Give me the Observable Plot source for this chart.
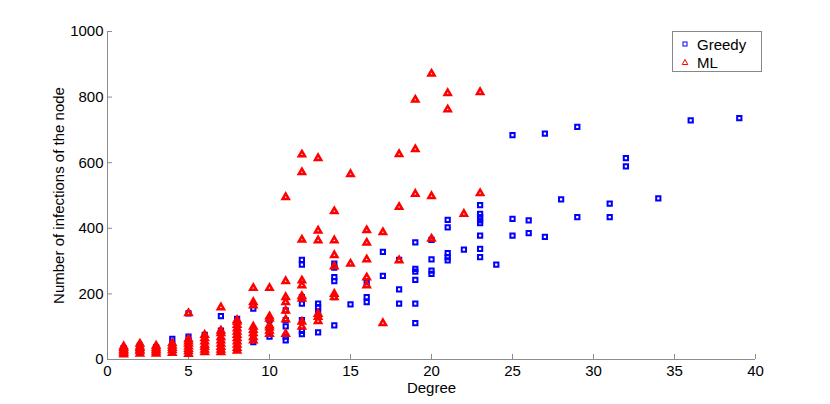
<!DOCTYPE html>
<html>
<head>
<meta charset="utf-8">
<script src="https://cdn.jsdelivr.net/npm/d3@7"></script>
<script src="https://cdn.jsdelivr.net/npm/@observablehq/plot@0.6"></script>
<style>
  body { margin: 0; background: white; }
  #wrap { position: relative; width: 830px; height: 404px; font-family: "Liberation Sans", Arial, Helvetica, sans-serif; }
  #legend { position: absolute; left: 672px; top: 31px; width: 90px; height: 41px; border: 1px solid #888; background: white; box-sizing: border-box; font-size: 15px; }
  #legend .row { position: absolute; left: 0; height: 18px; display: flex; align-items: center; }
  #legend svg { margin-left: 8px; margin-right: 8px; }
</style>
</head>
<body>
<div id="wrap">
  <div id="chart"></div>
  <div id="legend">
    <div class="row" style="top:3px"><svg width="8" height="8"><rect x="2" y="2" width="4" height="4" fill="none" stroke="#0000ff" stroke-width="1"/></svg><span>Greedy</span></div>
    <div class="row" style="top:21px"><svg width="8" height="8"><path d="M4,1.5L6.8,6.5H1.2Z" fill="none" stroke="#ff0000" stroke-width="1"/></svg><span>ML</span></div>
  </div>
</div>
<script>
const xTicks = [0, 5, 10, 15, 20, 25, 30, 35, 40];
const yTicks = [0, 200, 400, 600, 800, 1000];

// Greedy series: degree and number of infections
const greedyDeg = [
  1,1,1,1,
  2,2,2,2,
  3,3,3,3,
  4,4,4,4,
  5,5,5,5,5,5,
  6,6,6,6,6,
  7,7,7,7,7,
  8,8,8,8,8,
  9,9,9,9,
  10,10,10,10,
  11,11,11,11,11,
  12,12,12,12,12,12,12,
  13,13,13,13,13,
  14,14,14,14,14,14,
  15,
  16,16,16,
  17,17,
  18,18,18,
  19,19,19,19,19,19,
  20,20,20,20,
  21,21,21,21,21,
  22,
  23,23,23,23,23,23,23,23,
  24,
  25,25,25,
  26,26,
  27,27,
  28,
  29,29,
  31,31,
  32,32,
  34,
  36,
  39
];
const greedyInf = [
  20,25,30,35,
  22,28,35,42,
  20,26,32,38,
  25,35,45,63,
  20,30,45,55,70,141,
  25,35,45,60,75,
  25,40,60,88,132,
  30,45,65,90,124,
  53,70,90,155,
  70,85,94,120,
  58,70,101,120,150,
  77,87,120,170,190,289,304,
  83,130,145,160,170,
  104,190,239,251,280,292,
  168,
  175,190,236,
  255,328,
  170,214,304,
  111,170,243,268,276,357,
  261,271,305,365,
  302,312,324,403,426,
  335,
  312,337,378,416,424,434,444,471,
  289,
  378,429,684,
  385,424,
  374,689,
  488,
  434,709,
  434,475,
  589,614,
  491,
  729,
  736
];

// ML series: degree and number of infections
const mlDeg = [
  1,1,1,1,1,1,
  2,2,2,2,2,2,
  3,3,3,3,3,
  4,4,4,4,4,
  5,5,5,5,5,5,5,5,
  6,6,6,6,6,6,6,
  7,7,7,7,7,7,7,7,7,
  8,8,8,8,8,8,8,8,8,8,8,
  9,9,9,9,9,9,9,9,
  10,10,10,10,10,10,10,
  11,11,11,11,11,11,11,
  12,12,12,12,12,12,12,12,12,
  13,13,13,13,13,13,
  14,14,14,14,14,14,
  15,15,
  16,16,16,16,16,
  17,17,
  18,18,18,
  19,19,19,
  20,20,20,
  21,21,
  22,
  23,23
];
const mlInf = [
  15,20,25,30,35,40,
  18,25,30,35,40,48,
  18,24,30,36,42,
  20,28,35,42,50,
  17,25,32,40,48,55,62,141,
  22,30,38,45,55,65,75,
  22,30,38,48,58,68,80,88,159,
  27,35,45,55,65,75,85,95,105,115,120,
  58,68,80,90,100,165,175,218,
  78,88,98,104,124,131,218,
  78,122,149,175,190,239,495,
  100,115,185,193,226,241,365,571,625,
  117,130,139,363,393,614,
  190,200,284,318,363,452,
  292,565,
  226,250,305,356,394,
  111,388,
  302,465,626,
  505,641,792,
  368,498,871,
  762,812,
  444,
  507,815
];

const greedy = greedyDeg.map((d, i) => ({deg: d, inf: greedyInf[i]}));
const ml = mlDeg.map((d, i) => ({deg: d, inf: mlInf[i]}));

const W = 830, H = 404, mL = 107, mR = 75, mT = 31, mB = 45;
const innerW = W - mL - mR, innerH = H - mT - mB;
const axisColor = "#8c8c8c";

const chart = Plot.plot({
  width: W, height: H,
  marginLeft: mL, marginRight: mR, marginTop: mT, marginBottom: mB,
  style: {fontFamily: '"Liberation Sans", Arial, Helvetica, sans-serif', fontSize: "15px", background: "white", color: "black", overflow: "visible"},
  x: {domain: [0, 40], ticks: xTicks, label: null},
  y: {domain: [0, 1000], ticks: yTicks, label: null},
  marks: [
    Plot.ruleX([0], {stroke: axisColor}),
    Plot.ruleY([0], {stroke: axisColor}),
    Plot.tickX(xTicks, {x: d => d, stroke: axisColor, insetTop: innerH - 5}),
    Plot.tickY(yTicks, {y: d => d, stroke: axisColor, insetRight: innerW - 5}),
    Plot.axisX({ticks: xTicks, tickSize: 0, tickPadding: 6, fontSize: 15, label: "Degree", labelAnchor: "center", labelOffset: 33, labelArrow: false, tickFormat: d => String(d)}),
    Plot.axisY({ticks: yTicks, tickSize: 0, tickPadding: 4, fontSize: 15, label: "Number of infections of the node", labelAnchor: "center", labelOffset: 54, labelArrow: false, tickFormat: d => String(d)}),
    Plot.dot(greedy, {x: "deg", y: "inf", symbol: "square", r: 2.4, stroke: "#0000ff", strokeWidth: 2, fill: "none"}),
    Plot.dot(ml, {x: "deg", y: "inf", symbol: "triangle", r: 2.3, stroke: "#ff0000", strokeWidth: 2.5, fill: "none"})
  ]
});
document.getElementById("chart").appendChild(chart);
</script>
</body>
</html>
